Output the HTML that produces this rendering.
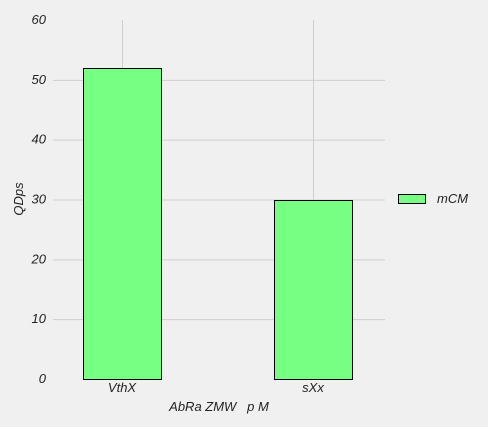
<!DOCTYPE html>
<html><head><meta charset="utf-8"><style>
html,body{margin:0;padding:0;background:#f0f0f0;}
svg{display:block;font-family:"Liberation Sans",sans-serif;font-style:italic;}
</style></head><body>
<svg id="chart" width="488" height="427">
<g id="grid"></g>
<g id="bars"></g>
<g id="ticks"></g>
<text x="219" y="411" font-size="13" fill="#222" text-anchor="middle" style="white-space:pre" xml:space="preserve">AbRa ZMW   p M</text>
<text transform="translate(23,199) rotate(-90)" font-size="13" fill="#222" text-anchor="middle">QDps</text>
<g>
<rect x="398.5" y="194.5" width="27" height="9" fill="#77ff83" stroke="#000"/>
<text x="437" y="203" font-size="13" fill="#222">mCM</text>
</g>
</svg>
<script>
const categories = ["VthX","sXx"];
const values = [52,30];
const yTicks = [0,10,20,30,40,50,60];
const NS="http://www.w3.org/2000/svg";
const x0=53,x1=385,yTop=20,yBot=379,yMax=60;
const y=v=>yBot-(v/yMax)*(yBot-yTop);
const centers=[122,313];
const xc=i=>centers[0]+i*(centers[1]-centers[0])/(categories.length-1||1);
const bw=78;
function mk(tag,attrs,parent){const e=document.createElementNS(NS,tag);for(const k in attrs)e.setAttribute(k,attrs[k]);parent.appendChild(e);return e;}
const grid=document.getElementById('grid'),bars=document.getElementById('bars'),ticks=document.getElementById('ticks');
yTicks.forEach(t=>{
  if(t>0&&t<yMax){const l=mk('line',{x1:x0,x2:x1,y1:y(t)+0.5,y2:y(t)+0.5,stroke:'#cfcfcf','stroke-width':1},grid);
  
  }
  const tx=mk('text',{x:46,y:y(t)+4,'font-size':13,fill:'#222','text-anchor':'end'},ticks);
  tx.textContent=t;
  
  
});
categories.forEach((c,i)=>{
  const l=mk('line',{x1:Math.round(xc(i))+0.5,x2:Math.round(xc(i))+0.5,y1:yTop,y2:yBot,stroke:'#cfcfcf'},grid);
  
  
  const r=mk('rect',{x:Math.round(xc(i)-bw/2)+0.5,y:Math.round(y(values[i]))+0.5,width:bw,height:yBot-Math.round(y(values[i])),fill:'#77ff83',stroke:'#000','stroke-width':1},bars);
  
  
  const tx=mk('text',{x:xc(i),y:yBot+13,'font-size':13,fill:'#222','text-anchor':'middle'},ticks);
  tx.textContent=c;
  
  
});
</script>
</body></html>
